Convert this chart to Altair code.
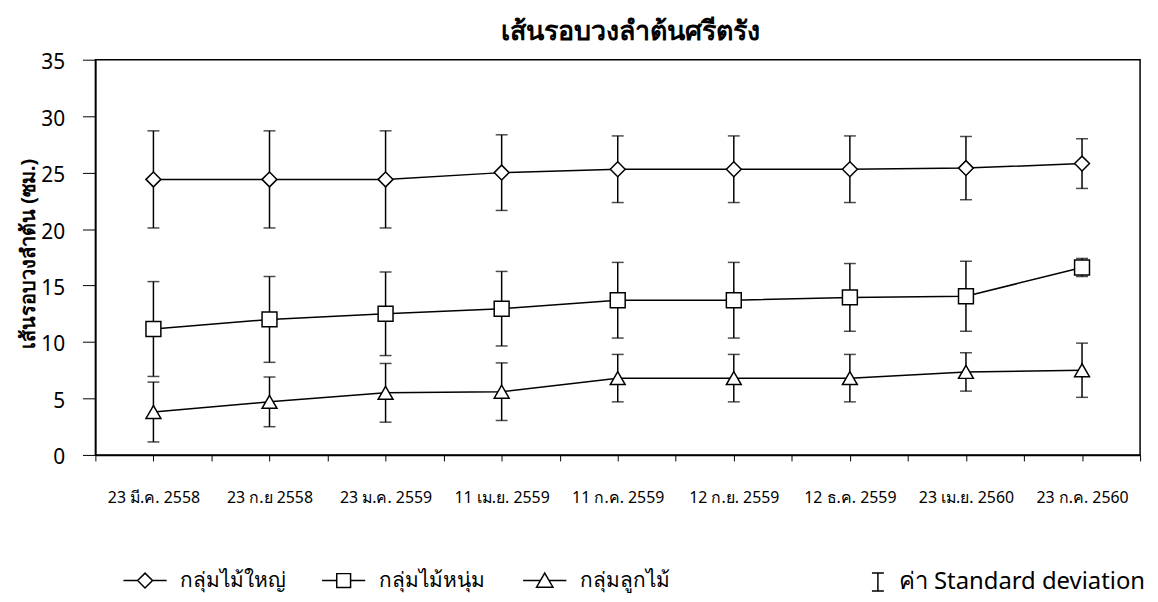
import json
import altair as alt
import pandas as pd

# ---------------- data ----------------
dates = ["23 มี.ค. 2558", "23 ก.ย 2558", "23 ม.ค. 2559", "11 เม.ย. 2559", "11 ก.ค. 2559",
         "12 ก.ย. 2559", "12 ธ.ค. 2559", "23 เม.ย. 2560", "23 ก.ค. 2560"]
series_names = ["กลุ่มไม้ใหญ่", "กลุ่มไม้หนุ่ม", "กลุ่มลูกไม้"]

big_mean = [24.4, 24.4, 24.4, 25.0, 25.3, 25.3, 25.3, 25.4, 25.8]
big_sd = [4.3, 4.3, 4.3, 3.35, 2.95, 2.95, 2.95, 2.8, 2.2]
young_mean = [11.15, 12.0, 12.5, 12.95, 13.7, 13.7, 13.95, 14.05, 16.6]
young_sd = [4.2, 3.8, 3.7, 3.3, 3.35, 3.35, 3.0, 3.1, 0.8]
sap_mean = [3.8, 4.7, 5.5, 5.6, 6.8, 6.8, 6.8, 7.35, 7.5]
sap_sd = [2.65, 2.2, 2.6, 2.55, 2.1, 2.1, 2.1, 1.7, 2.4]

sd_label = "ค่า Standard deviation"
title_text = "เส้นรอบวงลำต้นศรีตรัง"
y_title = "เส้นรอบวงลำต้น (ซม.)"
y_ticks = [0, 5, 10, 15, 20, 25, 30, 35]

rows = []
for s, means, sds in zip(series_names, [big_mean, young_mean, sap_mean], [big_sd, young_sd, sap_sd]):
    for i, (d, m, sd) in enumerate(zip(dates, means, sds)):
        rows.append(dict(idx=i, date=d, series=s, mean=m, lo=m - sd, hi=m + sd, sd=sd_label))
df = pd.DataFrame(rows)

# ---------------- style ----------------
FONT = "Noto Sans"
n = len(dates)
x_tick_vals = [k / 2 - 0.5 for k in range(2 * n + 1)]
label_expr = ("datum.value % 1 === 0 ? " + json.dumps(dates, ensure_ascii=False)
              + "[datum.value] : ''")

x_enc = alt.X(
    "idx:Q",
    scale=alt.Scale(domain=[-0.5, n - 0.5], nice=False, zero=False),
    axis=alt.Axis(values=x_tick_vals, labelExpr=label_expr, title=None, grid=False,
                  tickSize=6, labelFontSize=16, labelPadding=37, labelBaseline="middle",
                  labelOverlap=False, labelFlush=False),
)
y_scale = alt.Scale(domain=[0, 35], nice=False, zero=True)
y_enc = alt.Y(
    "mean:Q", scale=y_scale,
    axis=alt.Axis(values=y_ticks, title=y_title, grid=False, tickSize=13,
                  labelFontSize=21, labelPadding=18, labelOffset=3,
                  titleFontSize=20, titleFontWeight="bold", titleX=-67, titleY=195,
                  titleBaseline="middle", titleAlign="center", titleAngle=270),
)

# legend symbol outlines (line stub + marker), in unit symbol coordinates
diamond_path = "M-2.9,0H-1M1,0H2.9M0,-1L1,0L0,1L-1,0Z"
square_path = "M-2.9,0H-0.93M0.93,0H2.9M-0.93,-0.93H0.93V0.93H-0.93Z"
triangle_path = "M-2.9,0H-0.55M0.55,0H2.9M0,-1L1.1,0.9L-1.1,0.9Z"
sd_path = "M-0.8,-1.2H0.8M0,-1.2V1.2M-0.8,1.2H0.8"

LEG_Y = 514


def make_legend(path, lx, loff, fsize=21):
    return alt.Legend(title=None, orient="none", legendX=lx, legendY=LEG_Y,
                      symbolType=path, symbolSize=225, symbolStrokeWidth=1.5,
                      symbolStrokeColor="black", symbolFillColor="white", symbolOpacity=1,
                      labelOffset=loff, labelFontSize=fsize, labelLimit=400)


base = alt.Chart(df)

line = base.mark_line(color="black", strokeWidth=1.5).encode(
    x=x_enc, y=y_enc, detail="series:N"
)

rules = base.mark_rule(strokeWidth=1.5).encode(
    x="idx:Q", y="lo:Q", y2="hi:Q",
    color=alt.Color("sd:N", scale=alt.Scale(range=["black"]),
                    legend=make_legend(sd_path, 776, 9, 24)),
)

caps_lo = base.mark_tick(orient="horizontal", size=12, thickness=1.5, color="black").encode(
    x="idx:Q", y="lo:Q"
)
caps_hi = base.mark_tick(orient="horizontal", size=12, thickness=1.5, color="black").encode(
    x="idx:Q", y="hi:Q"
)

points = base.mark_point(filled=True, fill="white", stroke="black", strokeWidth=1.5,
                         size=225, opacity=1).encode(
    x="idx:Q", y="mean:Q",
    shape=alt.Shape("series:N",
                    scale=alt.Scale(domain=series_names, range=["diamond", "square", "triangle-up"]),
                    legend=None),
)

hidden = base.transform_filter("false").mark_point(
    filled=True, fill="white", stroke="black", strokeWidth=1.5
)
leg_a = hidden.encode(
    x="idx:Q", y="mean:Q",
    fill=alt.Fill("series:N", scale=alt.Scale(domain=[series_names[0]], range=["white"]),
                  legend=make_legend(diamond_path, 39.5, 25)),
)
leg_b = hidden.encode(
    x="idx:Q", y="mean:Q",
    stroke=alt.Stroke("series:N", scale=alt.Scale(domain=[series_names[1]], range=["black"]),
                      legend=make_legend(square_path, 239.5, 25)),
)
leg_c = hidden.encode(
    x="idx:Q", y="mean:Q",
    fill=alt.Fill("series:N", scale=alt.Scale(domain=[series_names[2]], range=["white"]),
                  legend=make_legend(triangle_path, 442, 25)),
)

chart = (
    alt.layer(line, rules, caps_lo, caps_hi, leg_a, leg_b, leg_c, points)
    .resolve_scale(fill="independent")
    .properties(
        width=1052, height=398,
        title=alt.Title(title_text, fontSize=27, fontWeight="bold", font=FONT,
                        anchor="middle", baseline="middle", offset=28, dx=13, dy=35,
                        color="black", frame="group"),
        padding={"left": 88, "top": 50, "right": 10, "bottom": 140},
        autosize=alt.AutoSizeParams(type="none"),
    )
    .configure_view(stroke="black", strokeWidth=1.5)
    .configure_axis(labelFont=FONT, titleFont=FONT, labelColor="black", titleColor="black",
                    tickColor="black", domainColor="black", domainWidth=1.5, tickWidth=1)
    .configure_legend(labelFont=FONT, labelColor="black")
)

chart.save("out.html", embed_options={"renderer": "svg", "actions": False})
